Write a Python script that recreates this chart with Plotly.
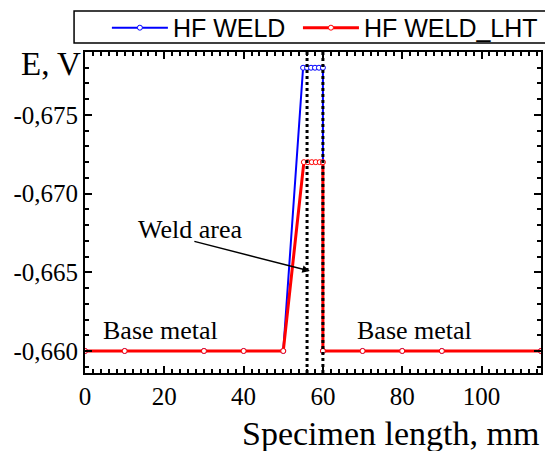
import plotly.graph_objects as go

# Data
weld_x = [0, 10, 30, 40, 50, 55, 56, 57, 58, 59, 60, 60, 70, 80, 90, 115]
weld_y = [-0.660, -0.660, -0.660, -0.660, -0.660,
          -0.678, -0.678, -0.678, -0.678, -0.678, -0.678,
          -0.660, -0.660, -0.660, -0.660, -0.660]
lht_x = [0, 10, 30, 40, 50, 55.2, 56.2, 57.2, 58.2, 59.2, 60, 60, 70, 80, 90, 115]
lht_y = [-0.660, -0.660, -0.660, -0.660, -0.660,
         -0.672, -0.672, -0.672, -0.672, -0.672, -0.672,
         -0.660, -0.660, -0.660, -0.660, -0.660]
weld_bounds = [56, 60]
y_ticks = [-0.660, -0.665, -0.670, -0.675]
y_tick_labels = ["-0,660", "-0,665", "-0,670", "-0,675"]
x_ticks = [0, 20, 40, 60, 80, 100]

serif = "Liberation Serif"
sans = "Liberation Sans"

fig = go.Figure()
fig.add_trace(go.Scatter(
    x=weld_x, y=weld_y, mode="lines+markers", name="HF WELD",
    line=dict(color="#0000FF", width=2),
    marker=dict(symbol="circle", size=5, color="white",
                line=dict(color="#0000FF", width=1)),
    legend="legend",
))
fig.add_trace(go.Scatter(
    x=lht_x, y=lht_y, mode="lines+markers", name="HF WELD_LHT",
    line=dict(color="#FF0000", width=3),
    marker=dict(symbol="circle", size=5, color="white",
                line=dict(color="#FF0000", width=1)),
    legend="legend2",
))

for xb in weld_bounds:
    fig.add_shape(type="line", xref="x", yref="paper", x0=xb, x1=xb, y0=0, y1=1,
                  line=dict(color="black", width=3, dash="dot"))

# legend frame
fig.add_shape(type="rect", xref="paper", yref="paper", x0=-0.024, x1=1.06,
              y0=1.028, y1=1.128, line=dict(color="black", width=1.5),
              fillcolor="rgba(0,0,0,0)")

axis_common = dict(
    showline=True, linecolor="black", linewidth=2, mirror="allticks",
    ticks="inside", ticklen=7, tickwidth=2, tickcolor="black",
    showgrid=False, zeroline=False,
    tickfont=dict(family=serif, size=25, color="black"),
)

fig.update_xaxes(range=[0, 115], tickvals=x_ticks,
                 minor=dict(dtick=2, ticks="inside", ticklen=4, tickwidth=1.5, tickcolor="black"),
                 **axis_common)
fig.update_yaxes(range=[-0.6586, -0.679], tickvals=y_ticks, ticktext=y_tick_labels,
                 minor=dict(dtick=0.001, tick0=-0.660, ticks="inside", ticklen=4, tickwidth=1.5, tickcolor="black"),
                 **axis_common)

fig.add_annotation(text="E, V", xref="paper", yref="paper", x=-0.004, y=1.025,
                   xanchor="right", yanchor="top", showarrow=False,
                   font=dict(family=serif, size=33, color="black"))
fig.add_annotation(text="Specimen length, mm", xref="paper", yref="paper",
                   x=1.0, y=-0.187, xanchor="right", yanchor="middle", showarrow=False,
                   font=dict(family=serif, size=34, color="black"))
fig.add_annotation(text="Base metal", x=4.0, y=-0.66025, showarrow=False,
                   xanchor="left", yanchor="bottom",
                   font=dict(family=serif, size=26, color="black"))
fig.add_annotation(text="Base metal", x=68, y=-0.66025, showarrow=False,
                   xanchor="left", yanchor="bottom",
                   font=dict(family=serif, size=26, color="black"))
fig.add_annotation(text="Weld area", x=26.5, y=-0.6667, showarrow=False,
                   xanchor="center", yanchor="bottom",
                   font=dict(family=serif, size=26, color="black"))
fig.add_annotation(text="", x=56.7, y=-0.66508, ax=27.2, ay=-0.66699,
                   axref="x", ayref="y", showarrow=True, arrowhead=2,
                   arrowsize=1, arrowwidth=1.5, arrowcolor="black")

legend_common = dict(orientation="h", y=1.075, xanchor="left", yanchor="middle",
                     borderwidth=0, bgcolor="rgba(0,0,0,0)",
                     font=dict(family=sans, size=25, color="black"),
                     itemwidth=56, tracegroupgap=0)

fig.update_layout(
    width=545, height=443,
    margin=dict(l=77, r=12, t=44, b=78, autoexpand=False),
    paper_bgcolor="white", plot_bgcolor="white",
    separators=", ",
    showlegend=True,
    legend=dict(x=0.048, **legend_common),
    legend2=dict(x=0.467, **legend_common),
)

fig.write_html("out.html")
